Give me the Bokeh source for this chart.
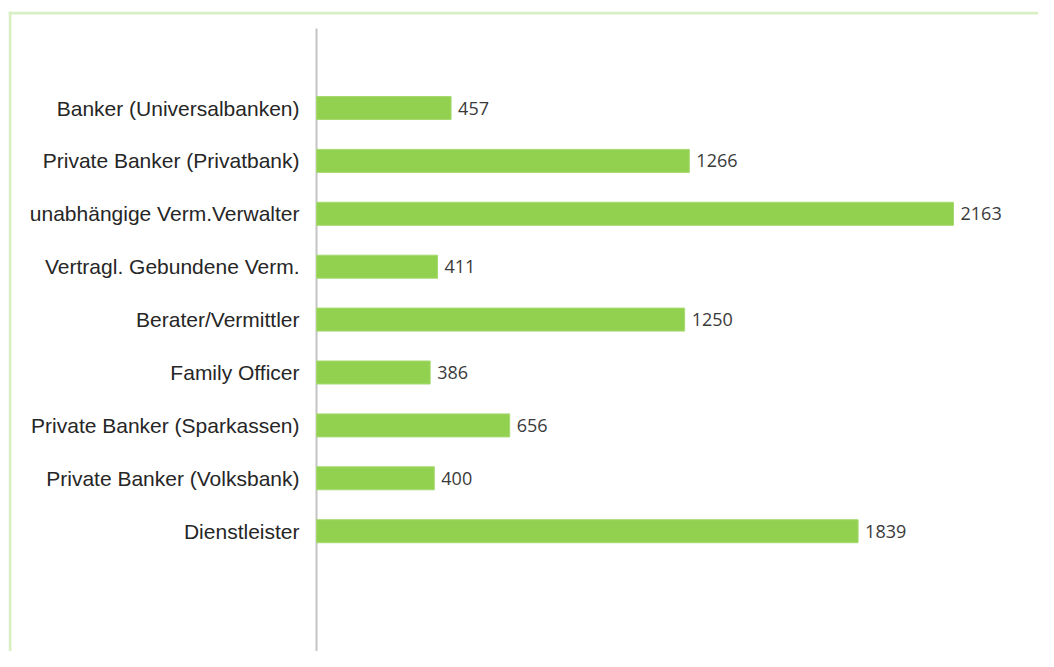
from bokeh.plotting import figure
from bokeh.models import Range1d, ColumnDataSource, BoxAnnotation
from bokeh.core.properties import value
from bokeh.embed import file_html
from bokeh.resources import INLINE

categories = [
    "Banker (Universalbanken)",
    "Private Banker (Privatbank)",
    "unabhängige Verm.Verwalter",
    "Vertragl. Gebundene Verm.",
    "Berater/Vermittler",
    "Family Officer",
    "Private Banker (Sparkassen)",
    "Private Banker (Volksbank)",
    "Dienstleister",
]
values = [457, 1266, 2163, 411, 1250, 386, 656, 400, 1839]

positions = list(range(len(categories)))
source = ColumnDataSource(dict(
    y=positions,
    v=values,
    zero=[0] * len(values),
    label=[str(v) for v in values],
    cat=categories,
))

W, H = 1038, 651
FRAME_L, FRAME_T = 8, 11          # where the light-green border sits
AXIS_PX = 316 - FRAME_L           # axis position inside the frame
PX_PER_UNIT = 0.2945
ROW_PX = 52.9
FIRST_ROW_PX = 107.5 - FRAME_T

x0 = -AXIS_PX / PX_PER_UNIT
x1 = (W - FRAME_L - AXIS_PX) / PX_PER_UNIT
y_top = -FIRST_ROW_PX / ROW_PX
y_bot = y_top + (H - FRAME_T) / ROW_PX

p = figure(
    width=W, height=H,
    output_backend="svg", toolbar_location=None,
    x_range=Range1d(x0, x1),
    y_range=Range1d(y_bot, y_top),
    min_border_left=FRAME_L, min_border_top=FRAME_T,
    min_border_right=0, min_border_bottom=0,
)
p.outline_line_color = None
p.xgrid.visible = False
p.ygrid.visible = False
p.xaxis.visible = False
p.yaxis.visible = False
p.background_fill_color = "white"
p.border_fill_color = "white"

# light green frame (top and left edges)
border_col = "#D8EFC3"
p.add_layout(BoxAnnotation(right=x0 + 3 / PX_PER_UNIT,
                           fill_color=border_col, fill_alpha=1.0,
                           line_color=None, level="underlay"))
p.add_layout(BoxAnnotation(bottom=y_top + 3 / ROW_PX,
                           fill_color=border_col, fill_alpha=1.0,
                           line_color=None, level="underlay"))

# vertical category axis line
axis_top = y_top + (28 - FRAME_T) / ROW_PX
p.segment(x0=[0], y0=[axis_top], x1=[0], y1=[y_bot],
          line_color="#C4C4C4", line_width=2)

p.hbar(y="y", right="v", left=0, height=0.435, source=source,
       fill_color="#92D050", line_color="#A6DA70", line_width=1)

p.text(x="v", y="y", text="label", source=source,
       x_offset=7, text_baseline="middle", text_align="left",
       text_font=value("Open Sans"), text_font_size="18px",
       text_color="#3A3A3A")

p.text(x="zero", y="y", text="cat", source=source,
       x_offset=-17, text_baseline="middle", text_align="right",
       text_font=value("Liberation Sans"), text_font_size="21px",
       text_color="#262626")

open("out.html", "w").write(file_html(p, INLINE))
